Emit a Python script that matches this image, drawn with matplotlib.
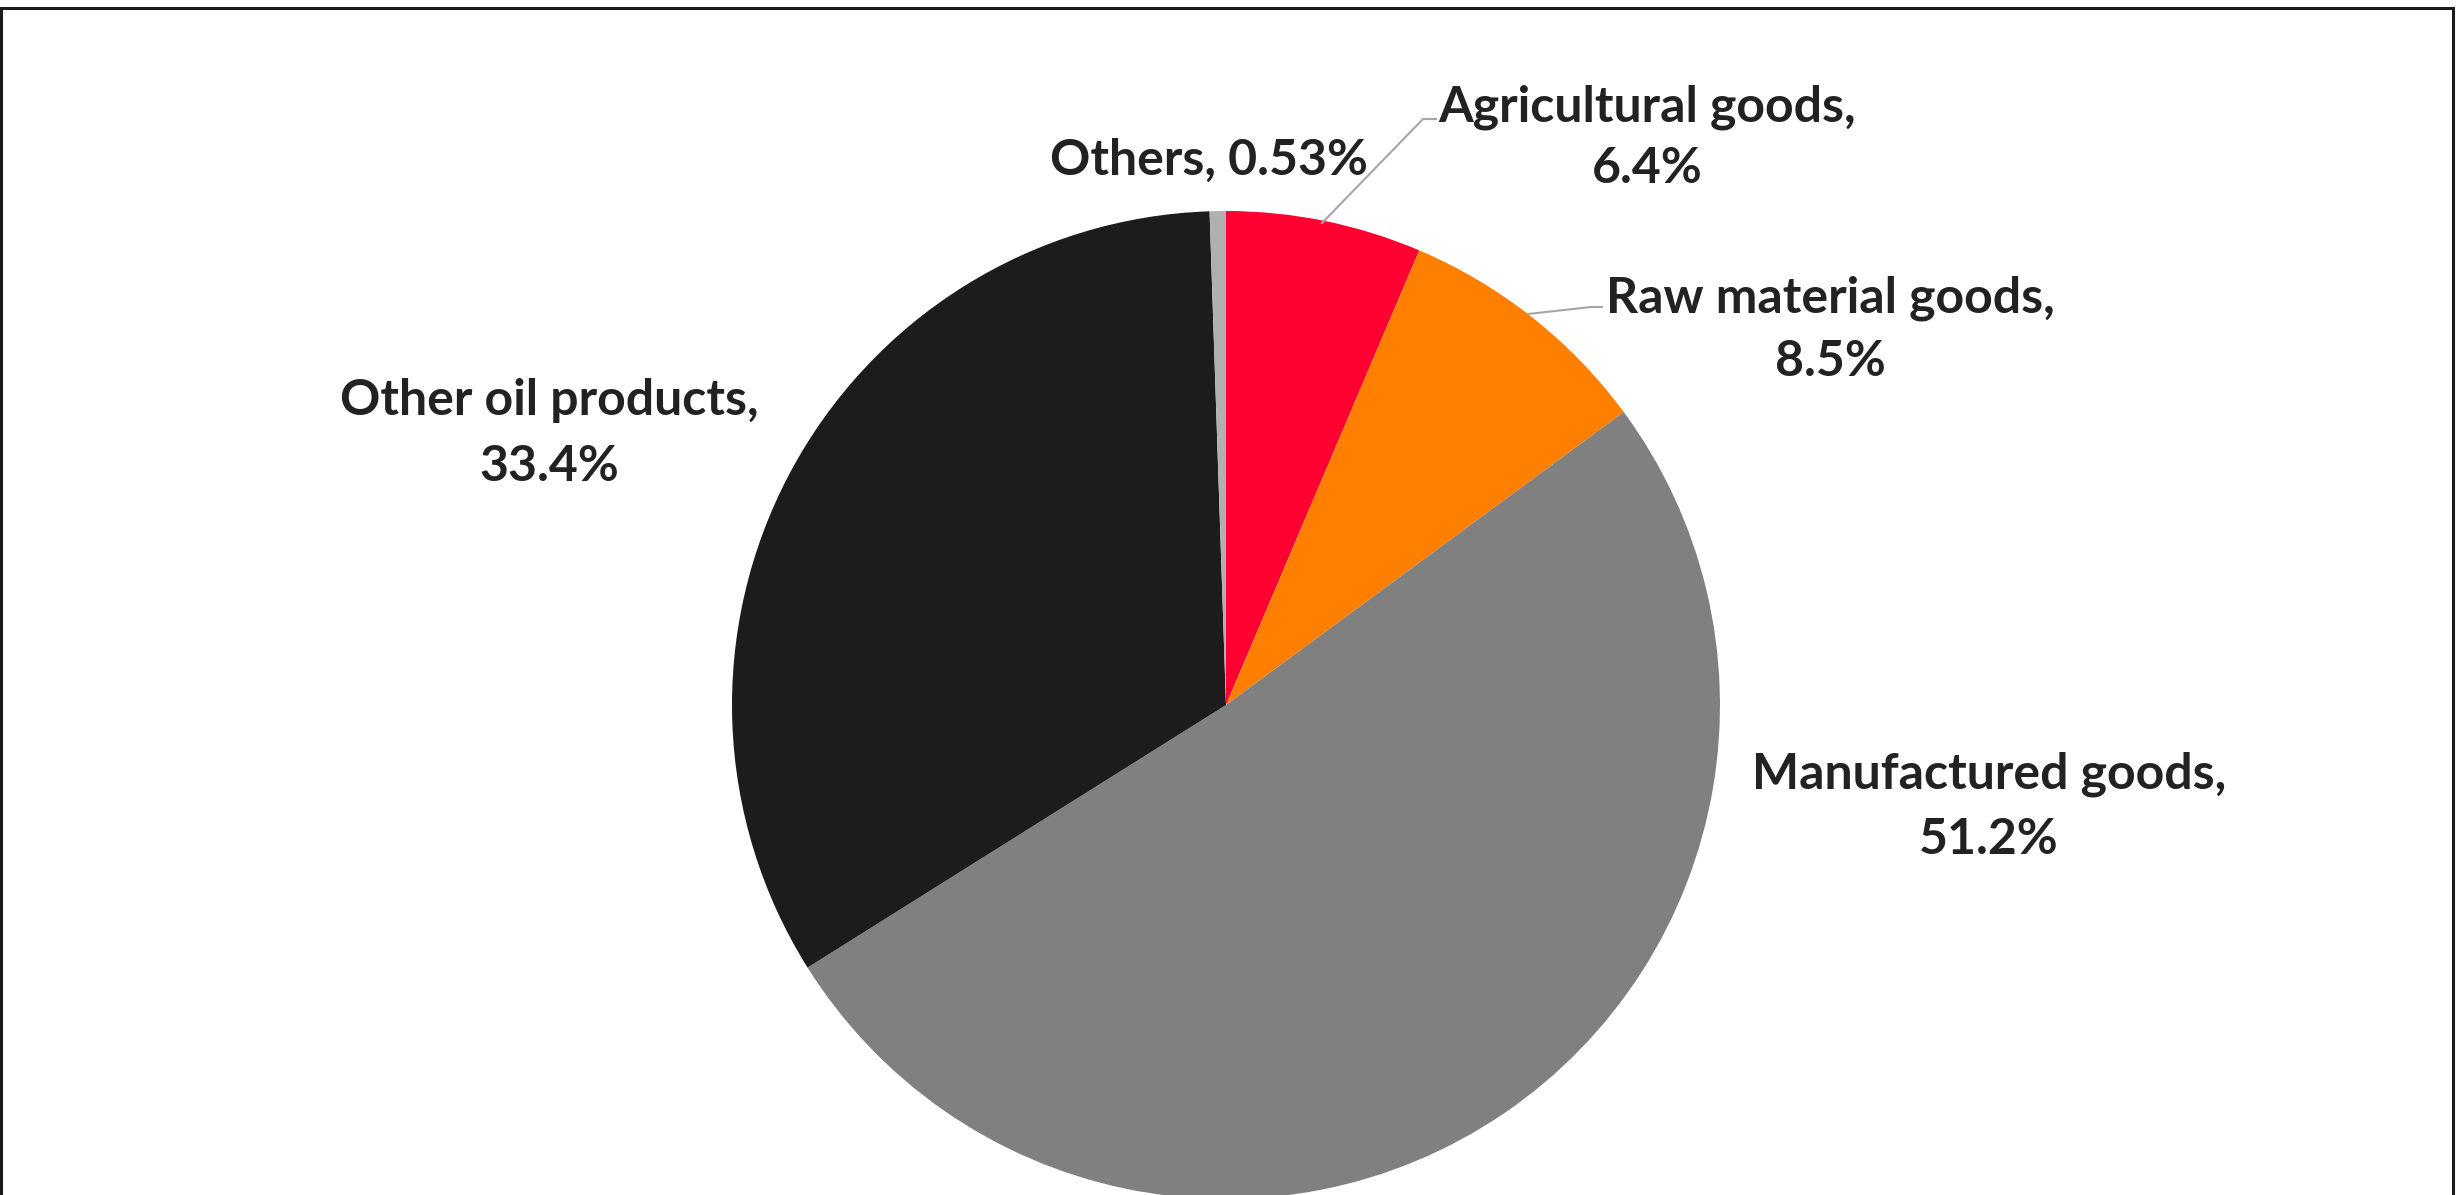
import matplotlib
matplotlib.use("Agg")
import matplotlib.pyplot as plt
from matplotlib.patches import Rectangle

categories = ["Agricultural goods", "Raw material goods", "Manufactured goods",
              "Other oil products", "Others"]
shares = [6.4, 8.5, 51.2, 33.4, 0.53]
share_labels = ["6.4%", "8.5%", "51.2%", "33.4%", "0.53%"]
colors = ["#FF0030", "#FF8000", "#808080", "#1C1C1C", "#B0B0B0"]

W, H = 2458, 1195
fig = plt.figure(figsize=(W / 100, H / 100), dpi=100)
ax = fig.add_axes([0, 0, 1, 1])
ax.axis("off")

# pixel coordinates, y measured from top
def py(y):
    return H - y

cx, cy, r = 1226, 705, 494
ax.pie(shares, colors=colors, startangle=90, counterclock=False,
       center=(cx, py(cy)), radius=r, wedgeprops=dict(linewidth=0))
ax.set_xlim(0, W)
ax.set_ylim(0, H)
ax.set_aspect("equal")

font = dict(family="Lato", weight="bold", fontsize=36, color="#222222",
            ha="center", va="center")

# label positions: x center, y of name line, y of value line (pixels)
label_pos = [(1647, 107, 168), (1830, 298, 361), (1989, 774, 840),
             (549, 400, 466), (1209, 160, None)]
for name, lab, (x, y1, y2) in zip(categories, share_labels, label_pos):
    if y2 is None:
        ax.text(x, py(y1), f"{name}, {lab}", **font)
    else:
        ax.text(x, py(y1), f"{name},", **font)
        ax.text(x, py(y2), lab, **font)

# leader lines
ax.plot([1322, 1423, 1436], [py(223), py(119), py(119)], color="#A6A6A6", lw=1.5)
ax.plot([1528, 1591, 1602], [py(314), py(307), py(307)], color="#A6A6A6", lw=1.5)

# outer frame
fig.patches.append(Rectangle((1 / W, -0.05), (W - 6) / W, 1.05 - 8 / H,
                             transform=fig.transFigure, fill=False,
                             edgecolor="#1A1A1A", linewidth=2.2))

fig.savefig("out.png", dpi=100)
